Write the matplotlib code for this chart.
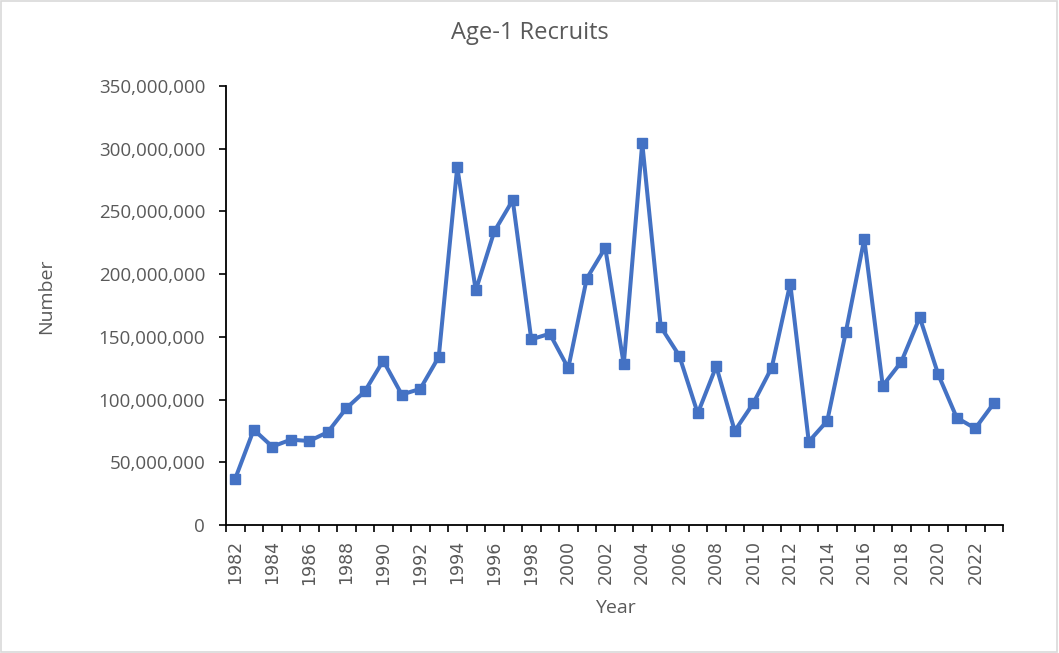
import numpy as np
import matplotlib
matplotlib.use("Agg")
import matplotlib.pyplot as plt
from matplotlib.ticker import FuncFormatter, FixedLocator
from matplotlib.patches import Rectangle

years = list(range(1982, 2024))
recruits_millions = [
    37, 76, 62.5, 68, 67, 74, 93, 106.5, 131, 104, 108.5, 134,
    285.5, 187, 234, 259, 148, 152.5, 125, 196.5, 221, 128,
    304.5, 158, 135, 89, 126.5, 75, 97, 125.5, 192.5, 66.5,
    83, 153.5, 228, 111, 130, 165.5, 120, 85.5, 77, 97,
]
recruits = [v * 1e6 for v in recruits_millions]
y_ticks = [0, 50e6, 100e6, 150e6, 200e6, 250e6, 300e6, 350e6]

text_color = "#595959"
line_color = "#4472C4"
plt.rcParams["font.family"] = ["Open Sans", "DejaVu Sans"]

fig = plt.figure(figsize=(10.59, 6.53), dpi=100)
fig.patches.append(Rectangle((0.001, 0.002), 0.997, 0.996, transform=fig.transFigure,
                             fill=False, edgecolor="#d9d9d9", linewidth=1.2))
ax = fig.add_axes([226 / 1059, 1 - 525 / 653, (1003 - 226) / 1059, (525 - 86) / 653])

idx = np.arange(len(years))
ax.plot(idx, recruits, color=line_color, linewidth=2.9, marker="s",
        markersize=7.5, markerfacecolor=line_color, markeredgecolor=line_color,
        solid_joinstyle="round")

ax.set_xlim(-0.5, len(years) - 0.5)
ax.set_ylim(0, 350e6)

ax.yaxis.set_major_locator(FixedLocator(y_ticks))
ax.yaxis.set_major_formatter(FuncFormatter(lambda v, p: f"{int(round(v)):,}"))
ax.tick_params(axis="y", direction="out", length=5, width=1.2, color="black",
               labelsize=13.5, labelcolor=text_color, pad=10)

ax.set_xticks(idx[::2])
ax.set_xticklabels([str(y) for y in years[::2]], rotation=90)
ax.set_xticks(np.arange(-0.5, len(years)), minor=True)
ax.tick_params(axis="x", which="major", length=0, labelsize=12.5,
               labelcolor=text_color, pad=11)
ax.tick_params(axis="x", which="minor", direction="out", length=5, width=1.2, color="black")
for lbl in ax.get_xticklabels():
    lbl.set_fontfamily("DejaVu Sans")

for side in ("top", "right"):
    ax.spines[side].set_visible(False)
for side in ("left", "bottom"):
    ax.spines[side].set_color("black")
    ax.spines[side].set_linewidth(1.3)

fig.text(530 / 1059, 1 - 33 / 653, "Age-1 Recruits", fontsize=17,
         color=text_color, ha="center", va="center")
fig.text(46 / 1059, 1 - 296 / 653, "Number", fontsize=14, color=text_color,
         rotation=90, ha="center", va="center")
fig.text(615 / 1059, 1 - 608 / 653, "Year", fontsize=14, color=text_color,
         ha="center", va="center")

fig.savefig("out.png", dpi=100)
